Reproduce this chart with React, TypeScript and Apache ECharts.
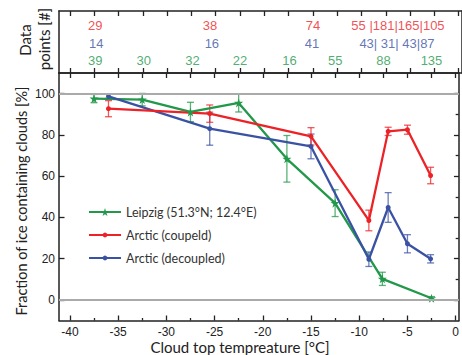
import React, { useEffect, useRef } from "react";
import * as echarts from "echarts";

// ---- data ----
const leipzigT = [-37.5, -32.5, -27.5, -22.5, -17.5, -12.5, -7.6, -2.5];
const leipzigF = [97.6, 97.1, 91.1, 95.5, 68.4, 46.9, 10.2, 0.8];
const leipzigErr = [2, 3, 4.7, 4.4, 11.3, 6.5, 3.2, 0.8];

const arcticT = [-36, -25.5, -15, -9, -7, -5, -2.6];
const coupledF = [92.7, 90.3, 79.3, 38.5, 81.7, 82.5, 60.3];
const coupledErr = [3.9, 4.2, 4.2, 5, 2, 2.2, 4];
const decoupledF = [98.7, 83, 74.4, 19.7, 44.8, 27.2, 19.9];
const decoupledErr = [1, 8, 6, 3.5, 7.2, 4.4, 2];

const coupledNT = [-37.4, -25.6, -15.0, -6.25];
const coupledN = ["29", "38", "74", "55 |181|165|105"];
const decoupledNT = [-37.3, -25.4, -15.1, -6.35];
const decoupledN = ["14", "16", "41", "43| 31| 43|87"];
const leipzigNT = [-37.4, -32.4, -27.4, -22.5, -17.4, -12.7, -7.75, -2.8];
const leipzigN = ["39", "30", "32", "22", "16", "55", "88", "135"];

const xMajor = [-40, -35, -30, -25, -20, -15, -10, -5, 0];
const xMinor = [-37.5, -32.5, -27.5, -22.5, -17.5, -12.5, -7.5, -2.5];
const xAll = [...xMajor, ...xMinor];
const yMajor = [0, 20, 40, 60, 80, 100];
const yMinor = [10, 30, 50, 70, 90];
const refLines = [100, 0];

const NAME_L = "Leipzig (51.3°N; 12.4°E)";
const NAME_C = "Arctic (coupeld)";
const NAME_D = "Arctic (decoupled)";

const GREEN = "#22984a";
const RED = "#ec2227";
const BLUE = "#3a52a3";
const AXIS = "#222";
const STAR =
  "path://M50,0 L61,35 L98,35 L68,57 L79,91 L50,70 L21,91 L32,57 L2,35 L39,35 Z";

const TITLE_FONT = "Lato, 'Open Sans', sans-serif";
const NUM_FONT = "'Liberation Sans', Arial, sans-serif";

function errSeries(xs: number[], ys: number[], errs: number[], color: string) {
  return {
    type: "custom",
    xAxisIndex: 0,
    yAxisIndex: 0,
    z: 2,
    silent: true,
    data: xs.map((x, i) => [x, ys[i] - errs[i], ys[i] + errs[i]]),
    encode: { x: 0, y: [1, 2] },
    renderItem: (_p: any, api: any) => {
      const lo = api.coord([api.value(0), api.value(1)]);
      const hi = api.coord([api.value(0), api.value(2)]);
      const w = 3.5;
      const style = { stroke: color, lineWidth: 1.3, opacity: 0.75 };
      return {
        type: "group",
        children: [
          { type: "line", shape: { x1: lo[0], y1: lo[1], x2: hi[0], y2: hi[1] }, style },
          { type: "line", shape: { x1: lo[0] - w, y1: lo[1], x2: lo[0] + w, y2: lo[1] }, style },
          { type: "line", shape: { x1: hi[0] - w, y1: hi[1], x2: hi[0] + w, y2: hi[1] }, style },
        ],
      };
    },
  };
}

function countSeries(xs: number[], labels: string[], level: number, color: string) {
  return {
    type: "scatter",
    xAxisIndex: 4,
    yAxisIndex: 3,
    symbolSize: 1,
    silent: true,
    itemStyle: { color: "transparent" },
    data: xs.map((x, i) => [x, level, labels[i]]),
    label: {
      show: true,
      position: "inside",
      formatter: (p: any) => p.data[2],
      color,
      fontSize: 13,
      fontFamily: NUM_FONT,
    },
  };
}

function legendFor(name: string, top: number, itemHeight: number) {
  return {
    orient: "vertical",
    left: 83,
    top,
    itemWidth: 32,
    itemHeight,
    data: [name],
    selectedMode: false,
    textStyle: { fontSize: 12.5, color: "#333", fontFamily: TITLE_FONT, lineHeight: 14 },
  };
}

export default function App() {
  const ref = useRef<HTMLDivElement>(null);
  useEffect(() => {
    const chart = echarts.init(ref.current!, undefined, { renderer: "svg" });
    const xMin = -41.13;
    const xMax = 0.34;
    const baseX = {
      min: xMin,
      max: xMax,
      type: "value",
      splitLine: { show: false },
      axisLabel: { show: false },
      axisTick: { show: false },
      axisLine: { show: false, onZero: false },
    };
    const line = { show: true, onZero: false, lineStyle: { color: AXIS, width: 1.5 } };
    const option: any = {
      animation: false,
      grid: [
        { left: 59, top: 73, width: 405, height: 247.5 },
        { left: 59, top: 11, width: 405, height: 62 },
      ],
      xAxis: [
        {
          ...baseX,
          gridIndex: 0,
          position: "bottom",
          axisLine: line,
          axisTick: { show: true, inside: true, length: 5, customValues: xMajor, lineStyle: { color: AXIS, width: 1.3 } },
          axisLabel: { show: true, customValues: xMajor, margin: 5, fontSize: 12, color: "#222", fontFamily: NUM_FONT },
        },
        {
          ...baseX,
          gridIndex: 0,
          position: "bottom",
          axisTick: { show: true, inside: true, length: 2.5, customValues: xMinor, lineStyle: { color: AXIS, width: 1.3 } },
        },
        {
          ...baseX,
          gridIndex: 0,
          position: "top",
          axisLine: line,
          axisTick: { show: true, inside: true, length: 5, customValues: xAll, lineStyle: { color: AXIS, width: 1.3 } },
        },
        {
          ...baseX,
          gridIndex: 1,
          position: "top",
          axisLine: line,
          axisTick: { show: true, inside: true, length: 5, customValues: xAll, lineStyle: { color: AXIS, width: 1.3 } },
        },
        {
          ...baseX,
          gridIndex: 1,
          position: "bottom",
          axisLine: line,
          axisTick: { show: true, inside: true, length: 5, customValues: xAll, lineStyle: { color: AXIS, width: 1.3 } },
        },
      ],
      yAxis: [
        {
          type: "value",
          gridIndex: 0,
          min: -10,
          max: 110,
          position: "left",
          splitLine: { show: false },
          axisLine: line,
          axisTick: { show: true, inside: true, length: 5.5, customValues: yMajor, lineStyle: { color: AXIS, width: 1.3 } },
          axisLabel: { show: true, customValues: yMajor, margin: 4, fontSize: 12, color: "#222", fontFamily: NUM_FONT },
        },
        {
          type: "value",
          gridIndex: 0,
          min: -10,
          max: 110,
          position: "left",
          splitLine: { show: false },
          axisLine: { show: false },
          axisLabel: { show: false },
          axisTick: { show: true, inside: true, length: 3, customValues: yMinor, lineStyle: { color: AXIS, width: 1.3 } },
        },
        {
          type: "value",
          gridIndex: 0,
          min: -10,
          max: 110,
          position: "right",
          splitLine: { show: false },
          axisLine: line,
          axisLabel: { show: false },
          axisTick: { show: true, inside: true, length: 5, customValues: yMajor, lineStyle: { color: AXIS, width: 1.3 } },
        },
        {
          type: "value",
          gridIndex: 1,
          min: 0,
          max: 1,
          position: "left",
          splitLine: { show: false },
          axisLine: line,
          axisLabel: { show: false },
          axisTick: { show: false },
        },
        {
          type: "value",
          gridIndex: 1,
          min: 0,
          max: 1,
          position: "right",
          splitLine: { show: false },
          axisLine: line,
          axisLabel: { show: false },
          axisTick: { show: false },
        },
      ],
      legend: [
        legendFor(NAME_L, 200, 10),
        legendFor(NAME_C, 223, 6),
        legendFor(NAME_D, 246, 6),
      ],
      graphic: [
        {
          type: "text",
          x: 240,
          y: 347,
          style: { text: "Cloud top tempreature [°C]", font: `15px ${TITLE_FONT}`, fill: "#222", align: "center", verticalAlign: "middle" },
        },
        {
          type: "text",
          x: 21,
          y: 201,
          rotation: Math.PI / 2,
          style: { text: "Fraction of ice containing clouds [%]", font: `14.5px ${TITLE_FONT}`, fill: "#222", align: "center", verticalAlign: "middle" },
        },
        {
          type: "text",
          x: 25,
          y: 40,
          rotation: Math.PI / 2,
          style: { text: "Data", font: `15px ${TITLE_FONT}`, fill: "#222", align: "center", verticalAlign: "middle" },
        },
        {
          type: "text",
          x: 44,
          y: 39,
          rotation: Math.PI / 2,
          style: { text: "points [#]", font: `15px ${TITLE_FONT}`, fill: "#222", align: "center", verticalAlign: "middle" },
        },
      ],
      series: [
        {
          type: "line",
          name: "ref",
          data: [],
          xAxisIndex: 0,
          yAxisIndex: 0,
          z: 1,
          markLine: {
            silent: true,
            symbol: ["none", "none"],
            label: { show: false },
            lineStyle: { color: "#aaaaaa", width: 2, type: "solid" },
            data: refLines.map((v) => ({ yAxis: v })),
          },
        },
        errSeries(leipzigT, leipzigF, leipzigErr, GREEN),
        errSeries(arcticT, decoupledF, decoupledErr, BLUE),
        errSeries(arcticT, coupledF, coupledErr, RED),
        {
          type: "line",
          name: NAME_L,
          xAxisIndex: 0,
          yAxisIndex: 0,
          z: 3,
          data: leipzigT.map((x, i) => [x, leipzigF[i]]),
          symbol: STAR,
          symbolSize: 9,
          color: GREEN,
          lineStyle: { color: GREEN, width: 2.3 },
          itemStyle: { color: GREEN },
        },
        {
          type: "line",
          name: NAME_D,
          xAxisIndex: 0,
          yAxisIndex: 0,
          z: 3,
          data: arcticT.map((x, i) => [x, decoupledF[i]]),
          symbol: "circle",
          symbolSize: 5,
          color: BLUE,
          lineStyle: { color: BLUE, width: 2.3 },
          itemStyle: { color: BLUE },
        },
        {
          type: "line",
          name: NAME_C,
          xAxisIndex: 0,
          yAxisIndex: 0,
          z: 3,
          data: arcticT.map((x, i) => [x, coupledF[i]]),
          symbol: "circle",
          symbolSize: 5,
          color: RED,
          lineStyle: { color: RED, width: 2.3 },
          itemStyle: { color: RED },
        },
        countSeries(coupledNT, coupledN, 0.774, RED),
        countSeries(decoupledNT, decoupledN, 0.468, BLUE),
        countSeries(leipzigNT, leipzigN, 0.194, GREEN),
      ],
    };
    chart.setOption(option);
    return () => chart.dispose();
  }, []);
  return (
    <div
      ref={ref}
      style={{ position: "absolute", left: 0, top: 0, width: 462, height: 355, background: "#fff" }}
    />
  );
}
